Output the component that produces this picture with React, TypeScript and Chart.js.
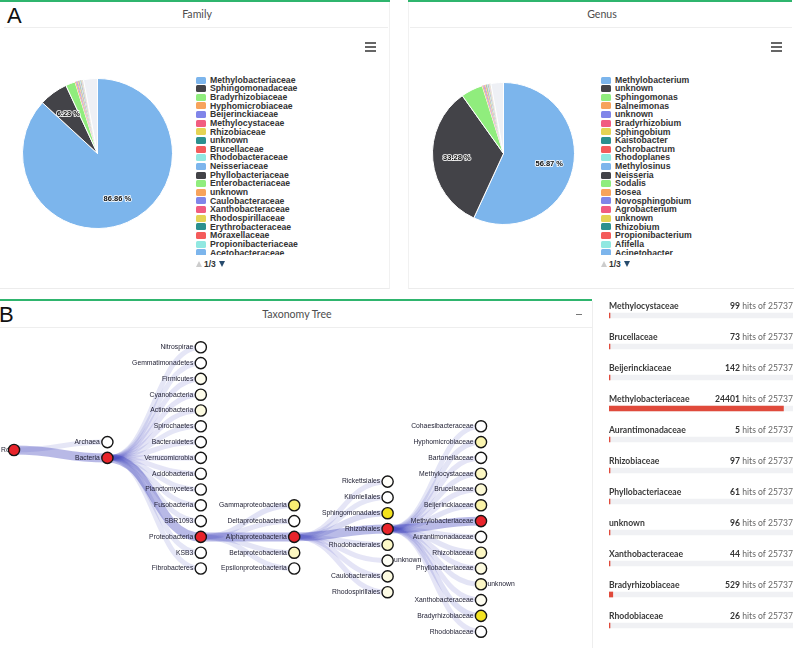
import React, { useEffect, useRef } from "react";
import { Chart, registerables } from "chart.js";

Chart.register(...registerables);

// ---------- DATA ----------
const palette = ["#7cb5ec", "#434348", "#90ed7d", "#f7a35c", "#8085e9", "#f15c80", "#e4d354", "#2b908f", "#f45b5b", "#91e8e1"];

const familyLabels = [
  "Methylobacteriaceae", "Sphingomonadaceae", "Bradyrhizobiaceae", "Hyphomicrobiaceae", "Beijerinckiaceae",
  "Methylocystaceae", "Rhizobiaceae", "unknown", "Brucellaceae", "Rhodobacteraceae", "Neisseriaceae",
  "Phyllobacteriaceae", "Enterobacteriaceae", "unknown", "Caulobacteraceae", "Xanthobacteraceae",
  "Rhodospirillaceae", "Erythrobacteraceae", "Moraxellaceae", "Propionibacteriaceae", "Acetobacteraceae",
];
const familyValues = [86.86, 6.23, 2.06, 0.24, 0.21, 0.17, 0.15, 0.14, 0.12, 0.11, 0.1, 0.1, 0.08, 0.08, 0.07, 0.06, 0.06, 0.05, 0.04, 0.04, 0.03];
const familyOtherPages = 3.0; // slices listed on legend pages 2-3

const genusLabels = [
  "Methylobacterium", "unknown", "Sphingomonas", "Balneimonas", "unknown", "Bradyrhizobium", "Sphingobium",
  "Kaistobacter", "Ochrobactrum", "Rhodoplanes", "Methylosinus", "Neisseria", "Sodalis", "Bosea",
  "Novosphingobium", "Agrobacterium", "unknown", "Rhizobium", "Propionibacterium", "Afifella", "Acinetobacter",
];
const genusValues = [56.87, 33.28, 5.0, 0.25, 0.22, 0.2, 0.18, 0.15, 0.13, 0.12, 0.11, 0.1, 0.09, 0.08, 0.07, 0.06, 0.06, 0.05, 0.05, 0.04, 0.04];
const genusOtherPages = 2.85;

const hitFamilies = [
  "Methylocystaceae", "Brucellaceae", "Beijerinckiaceae", "Methylobacteriaceae", "Aurantimonadaceae",
  "Rhizobiaceae", "Phyllobacteriaceae", "unknown", "Xanthobacteraceae", "Bradyrhizobiaceae", "Rhodobiaceae",
];
const hitCounts = [99, 73, 142, 24401, 5, 97, 61, 96, 44, 529, 26];
const hitTotal = 25737;

const treeNames = [
  "Root", "Archaea", "Bacteria",
  "Nitrospirae", "Gemmatimonadetes", "Firmicutes", "Cyanobacteria", "Actinobacteria", "Spirochaetes",
  "Bacteroidetes", "Verrucomicrobia", "Acidobacteria", "Planctomycetes", "Fusobacteria", "SBR1093",
  "Proteobacteria", "KSB3", "Fibrobacteres",
  "Gammaproteobacteria", "Deltaproteobacteria", "Alphaproteobacteria", "Betaproteobacteria", "Epsilonproteobacteria",
  "Rickettsiales", "Kiloniellales", "Sphingomonadales", "Rhizobiales", "Rhodobacterales", "unknown",
  "Caulobacterales", "Rhodospirillales",
  "Cohaesibacteraceae", "Hyphomicrobiaceae", "Bartonellaceae", "Methylocystaceae", "Brucellaceae",
  "Beijerinckiaceae", "Methylobacteriaceae", "Aurantimonadaceae", "Rhizobiaceae", "Phyllobacteriaceae",
  "unknown", "Xanthobacteraceae", "Bradyrhizobiaceae", "Rhodobiaceae",
];
const treeParents = [
  -1, 0, 0,
  2, 2, 2, 2, 2, 2, 2, 2, 2, 2, 2, 2, 2, 2, 2,
  15, 15, 15, 15, 15,
  20, 20, 20, 20, 20, 20, 20, 20,
  26, 26, 26, 26, 26, 26, 26, 26, 26, 26, 26, 26, 26, 26,
];
const treeHits = [
  28514, 3, 28511,
  5, 8, 45, 50, 60, 6, 20, 15, 18, 12, 10, 4, 28253, 3, 2,
  250, 20, 27879, 100, 4,
  35, 12, 1850, 25737, 90, 40, 60, 55,
  8, 126, 30, 99, 73, 142, 24401, 5, 97, 61, 96, 44, 529, 26,
];

// ---------- HELPERS ----------
const FONT_SANS = "Lato, 'Open Sans', sans-serif";

function layoutTree() {
  const n = treeNames.length;
  const depth = new Array(n).fill(0);
  const row = new Array(n).fill(0);
  const children: number[][] = treeNames.map(() => []);
  treeParents.forEach((p, i) => { if (p >= 0) children[p].push(i); });
  for (let i = 0; i < n; i++) {
    const p = treeParents[i];
    if (p < 0) continue;
    depth[i] = depth[p] + 1;
    const sib = children[p];
    row[i] = row[p] + sib.indexOf(i) - (sib.length - 1) / 2;
  }
  return { depth, row };
}

function nodeColor(h: number) {
  if (h >= 5000) return "#e8242b";
  let t = Math.log(h / 25) / Math.log(550 / 25);
  t = Math.max(0, Math.min(1, t));
  t = Math.pow(t, 1.6);
  const r = Math.round(255 + (243 - 255) * t);
  const g = Math.round(255 + (226 - 255) * t);
  const b = Math.round(255 + (30 - 255) * t);
  return `rgb(${r},${g},${b})`;
}

const pieLabelPlugin = {
  id: "pieLabels",
  afterDatasetsDraw(chart: any) {
    const ctx = chart.ctx;
    const meta = chart.getDatasetMeta(0);
    const data = chart.data.datasets[0].data as number[];
    const total = data.reduce((a, b) => a + b, 0);
    meta.data.forEach((arc: any, i: number) => {
      const v = data[i];
      if (v / total < 0.06) return;
      const mid = (arc.startAngle + arc.endAngle) / 2;
      const r = arc.outerRadius * 0.66;
      const x = arc.x + Math.cos(mid) * r;
      const y = arc.y + Math.sin(mid) * r;
      const txt = v.toFixed(2) + " %";
      ctx.save();
      ctx.font = "bold 7.5px 'Liberation Sans', Arial, sans-serif";
      ctx.textAlign = "center";
      ctx.textBaseline = "middle";
      ctx.lineWidth = 2;
      ctx.lineJoin = "round";
      ctx.strokeStyle = "rgba(255,255,255,0.85)";
      ctx.strokeText(txt, x, y);
      ctx.fillStyle = "#111";
      ctx.fillText(txt, x, y);
      ctx.restore();
    });
  },
};

function PieCanvas({ labels, values, other, left, top, size }: any) {
  const ref = useRef<HTMLCanvasElement>(null);
  useEffect(() => {
    const colors = labels.map((_: string, i: number) => palette[i % palette.length]);
    const all = [...values, other];
    const chart = new Chart(ref.current!, {
      type: "pie",
      data: {
        labels: [...labels, "legend pages 2–3"],
        datasets: [{
          data: all,
          backgroundColor: [...colors, "#eef0f5"],
          borderColor: "#ffffff",
          borderWidth: all.map((v: number) => (v > 1 ? 1 : 0.2)),
          hoverOffset: 0,
        }],
      },
      options: {
        responsive: false,
        animation: false,
        layout: { padding: 0 },
        plugins: { legend: { display: false }, tooltip: { enabled: false } },
      },
      plugins: [pieLabelPlugin],
    });
    return () => chart.destroy();
  }, []);
  return <canvas ref={ref} width={size} height={size} style={{ position: "absolute", left, top, width: size, height: size }} />;
}

function PieLegend({ labels, left }: any) {
  return (
    <>
      <div style={{ position: "absolute", left, top: 75.7, width: 185, height: 179.5, overflow: "hidden" }}>
        {labels.map((l: string, i: number) => (
          <div key={i} style={{ height: 8.65, display: "flex", alignItems: "center", whiteSpace: "nowrap" }}>
            <span style={{ width: 10, height: 7, borderRadius: 1.5, background: palette[i % palette.length], marginRight: 4, flex: "none" }} />
            <span style={{ font: "bold 8.7px 'Liberation Sans', Arial, sans-serif", color: "#333", lineHeight: "8.65px" }}>{l}</span>
          </div>
        ))}
      </div>
      <div style={{ position: "absolute", left, top: 260, height: 8, display: "flex", alignItems: "center" }}>
        <span style={{ width: 0, height: 0, borderLeft: "3.5px solid transparent", borderRight: "3.5px solid transparent", borderBottom: "6px solid #cccccc" }} />
        <span style={{ font: "bold 8.5px 'Liberation Sans', Arial, sans-serif", color: "#333", margin: "0 3px 0 2px", lineHeight: "8px" }}>1/3</span>
        <span style={{ width: 0, height: 0, borderLeft: "3.5px solid transparent", borderRight: "3.5px solid transparent", borderTop: "6px solid #274b6d" }} />
      </div>
    </>
  );
}

function TreeCanvas() {
  const ref = useRef<HTMLCanvasElement>(null);
  useEffect(() => {
    const { depth, row } = layoutTree();
    const linkPlugin = {
      id: "treeLinks",
      beforeDatasetsDraw(chart: any) {
        const ctx = chart.ctx;
        const xs = chart.scales.x, ys = chart.scales.y;
        ctx.save();
        ctx.lineCap = "butt";
        treeParents.forEach((p, i) => {
          if (p < 0) return;
          const sx = xs.getPixelForValue(depth[p]), sy = ys.getPixelForValue(row[p]);
          const tx = xs.getPixelForValue(depth[i]), ty = ys.getPixelForValue(row[i]);
          const f = Math.sqrt(treeHits[i] / treeHits[p]);
          ctx.lineWidth = 5 + 4 * f;
          ctx.strokeStyle = `rgba(62,66,188,${0.13 + 0.24 * f})`;
          const mx = (sx + tx) / 2;
          ctx.beginPath();
          ctx.moveTo(sx, sy);
          ctx.bezierCurveTo(mx, sy, mx, ty, tx, ty);
          ctx.stroke();
        });
        ctx.font = "6.8px 'Liberation Sans', Arial, sans-serif";
        ctx.fillStyle = "#1d1d30";
        ctx.textBaseline = "middle";
        treeNames.forEach((name, i) => {
          const px = xs.getPixelForValue(depth[i]), py = ys.getPixelForValue(row[i]);
          ctx.textAlign = "left";
          if (name === "unknown") {
            ctx.fillText(name, px + 6.5, py);
          } else {
            const w = ctx.measureText(name).width;
            ctx.fillText(name, Math.max(1, px - 7.5 - w), py);
          }
        });
        ctx.restore();
      },
    };
    const chart = new Chart(ref.current!, {
      type: "scatter",
      data: {
        datasets: [{
          data: treeNames.map((_, i) => ({ x: depth[i], y: row[i] })),
          pointRadius: 5.6,
          pointBorderWidth: 1.4,
          pointBorderColor: "#151515",
          pointBackgroundColor: treeHits.map(nodeColor),
          pointHoverRadius: 5.6,
        }],
      },
      options: {
        responsive: false,
        animation: false,
        layout: { padding: 0, autoPadding: false },
        scales: {
          x: { type: "linear", display: false, min: -14 / 93.4, max: (592 - 14) / 93.4 },
          y: { type: "linear", display: false, reverse: true, min: (328 - 450) / 15.8, max: (646 - 450) / 15.8 },
        },
        plugins: { legend: { display: false }, tooltip: { enabled: false } },
      },
      plugins: [linkPlugin],
    });
    return () => chart.destroy();
  }, []);
  return <canvas ref={ref} width={592} height={318} style={{ position: "absolute", left: 0, top: 328, width: 592, height: 318 }} />;
}

function HitsCanvas() {
  const ref = useRef<HTMLCanvasElement>(null);
  useEffect(() => {
    const textPlugin = {
      id: "hitsText",
      afterDatasetsDraw(chart: any) {
        const ctx = chart.ctx;
        const { left, right } = chart.chartArea;
        const meta = chart.getDatasetMeta(0);
        meta.data.forEach((bar: any, i: number) => {
          const y = bar.y - 9;
          ctx.save();
          ctx.textBaseline = "middle";
          ctx.textAlign = "left";
          ctx.font = `bold 8.6px ${FONT_SANS}`;
          ctx.fillStyle = "#3a3a3a";
          ctx.fillText(hitFamilies[i], left, y);
          const tail = " hits of " + hitTotal;
          ctx.font = `8.6px ${FONT_SANS}`;
          const w = ctx.measureText(tail).width;
          ctx.textAlign = "right";
          ctx.fillStyle = "#666";
          ctx.fillText(tail, right, y);
          ctx.font = `bold 8.6px ${FONT_SANS}`;
          ctx.fillStyle = "#333";
          ctx.fillText(String(hitCounts[i]), right - w, y);
          ctx.restore();
        });
      },
    };
    const chart = new Chart(ref.current!, {
      type: "bar",
      data: {
        labels: hitFamilies,
        datasets: [
          { data: hitCounts, backgroundColor: "#e04a3b", grouped: false, barThickness: 5, minBarLength: 1 } as any,
          { data: hitFamilies.map(() => hitTotal), backgroundColor: "#f0f1f4", grouped: false, barThickness: 5 } as any,
        ],
      },
      options: {
        indexAxis: "y",
        responsive: false,
        animation: false,
        layout: { padding: { left: 9, right: 3, top: 2, bottom: 7 }, autoPadding: false },
        scales: { x: { display: false, min: 0, max: hitTotal }, y: { display: false } },
        plugins: { legend: { display: false }, tooltip: { enabled: false } },
      },
      plugins: [textPlugin],
    });
    return () => chart.destroy();
  }, []);
  return <canvas ref={ref} width={196} height={350} style={{ position: "absolute", left: 600, top: 298, width: 196, height: 350 }} />;
}

function Hamburger({ left }: { left: number }) {
  return (
    <>
      {[43, 47, 51].map((t) => (
        <div key={t} style={{ position: "absolute", left, top: t - 1, width: 11, height: 2, background: "#666" }} />
      ))}
    </>
  );
}

const GREEN = "#2fb56e";

export default function App() {
  const titleStyle: React.CSSProperties = {
    position: "absolute", textAlign: "center", font: `10.6px ${FONT_SANS}`, color: "#4d4d4d", lineHeight: "12px",
  };
  const letterStyle: React.CSSProperties = {
    position: "absolute", font: "22px 'Liberation Sans', Arial, sans-serif", color: "#111", lineHeight: "22px",
  };
  return (
    <div style={{ position: "absolute", left: 0, top: 0, width: 796, height: 648, background: "#fff", overflow: "hidden" }}>
      {/* Panel A - Family */}
      <div style={{ position: "absolute", left: 0, top: 0, width: 390, height: 289, borderRight: "1px solid #f1f1f1", borderBottom: "1px solid #ececec", boxSizing: "border-box" }} />
      <div style={{ position: "absolute", left: 0, top: 0, width: 390, height: 2, background: GREEN }} />
      <div style={{ position: "absolute", left: 4, top: 27, width: 384, height: 1, background: "#eeeeee" }} />
      <div style={{ ...titleStyle, left: 0, width: 394, top: 8 }}>Family</div>
      <div style={{ ...letterStyle, left: 7, top: 5.4 }}>A</div>
      <Hamburger left={365} />
      <PieCanvas labels={familyLabels} values={familyValues} other={familyOtherPages} left={21.5} top={77.5} size={151} />
      <PieLegend labels={familyLabels} left={196} />

      {/* Panel A - Genus */}
      <div style={{ position: "absolute", left: 408, top: 0, width: 386, height: 289, borderLeft: "1px solid #f1f1f1", borderBottom: "1px solid #ececec", boxSizing: "border-box" }} />
      <div style={{ position: "absolute", left: 408, top: 0, width: 384, height: 2, background: GREEN }} />
      <div style={{ position: "absolute", left: 410, top: 27, width: 382, height: 1, background: "#eeeeee" }} />
      <div style={{ ...titleStyle, left: 408, width: 388, top: 8 }}>Genus</div>
      <Hamburger left={771} />
      <PieCanvas labels={genusLabels} values={genusValues} other={genusOtherPages} left={431.5} top={81.5} size={143} />
      <PieLegend labels={genusLabels} left={601} />

      {/* Panel B - Taxonomy tree */}
      <div style={{ position: "absolute", left: 0, top: 299, width: 592, height: 2, background: GREEN }} />
      <div style={{ position: "absolute", left: 0, top: 301, width: 593, height: 347, borderRight: "1px solid #eeeeee", boxSizing: "border-box" }} />
      <div style={{ position: "absolute", left: 0, top: 327, width: 592, height: 1, background: "#eeeeee" }} />
      <div style={{ ...titleStyle, left: 0, width: 594, top: 308 }}>Taxonomy Tree</div>
      <div style={{ position: "absolute", left: 576, top: 314, width: 6, height: 1, background: "#777" }} />
      <div style={{ ...letterStyle, left: -1, top: 304.4 }}>B</div>
      <TreeCanvas />

      {/* Right list */}
      <HitsCanvas />
    </div>
  );
}
